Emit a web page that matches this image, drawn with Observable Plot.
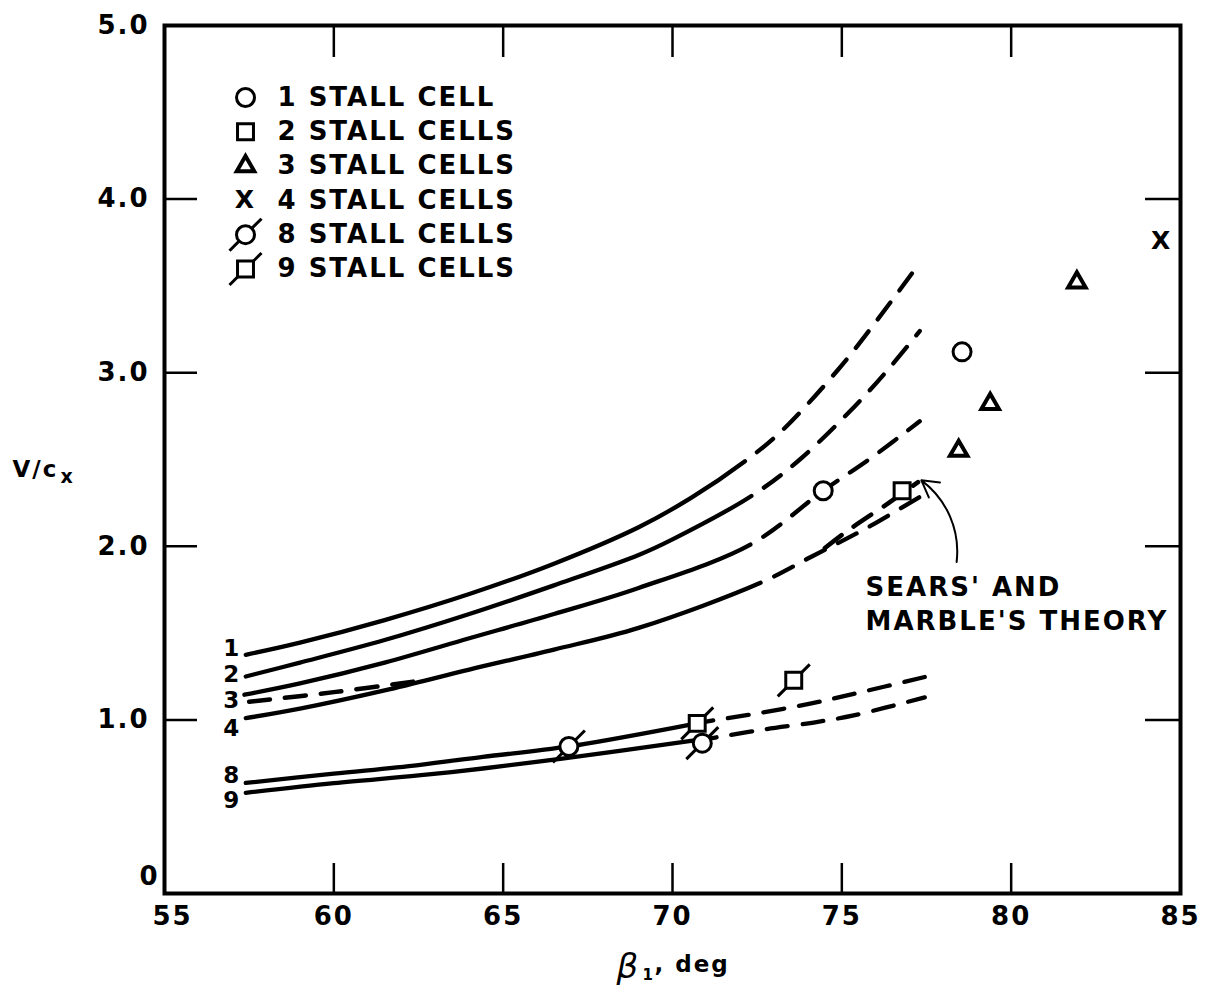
<!DOCTYPE html>
<html><head><meta charset="utf-8">
<script src="https://cdn.jsdelivr.net/npm/d3@7"></script>
<script src="https://cdn.jsdelivr.net/npm/@observablehq/plot@0.6"></script>
<style>
body{margin:0;background:#fff;}
#chart svg{display:block;}
</style></head><body><div id="chart"></div>
<script>
// ---------- axis ticks ----------
const xTicks = [55, 60, 65, 70, 75, 80, 85];
const xTickLabels = ["55", "60", "65", "70", "75", "80", "85"];
const yTicks = [1, 2, 3, 4, 5];
const yTickLabels = ["1.0", "2.0", "3.0", "4.0", "5.0"];
const innerXTicks = [60, 65, 70, 75, 80];
const innerYTicks = [1, 2, 3, 4];

// ---------- theory curves (beta1 deg, V/cx) ----------
const curve1Beta = [57.4, 59, 61.5, 64, 66.5, 69, 70.56, 72.14, 73.2, 74.9, 76.07, 77.25];
const curve1V    = [1.375, 1.445, 1.575, 1.725, 1.9, 2.11, 2.28, 2.49, 2.66, 3.02, 3.31, 3.62];
const curve1SolidEnd = 72.14;

const curve2Beta = [57.4, 59, 61.5, 64, 66.5, 69, 70, 72.33, 73.7, 75.4, 76.46, 77.3];
const curve2V    = [1.25, 1.33, 1.46, 1.61, 1.775, 1.95, 2.04, 2.29, 2.49, 2.81, 3.04, 3.24];
const curve2SolidEnd = 72.33;

const curve3Beta = [57.36, 59, 61.5, 64, 66.5, 69, 72.3, 74.45, 75.87, 77.3];
const curve3V    = [1.145, 1.21, 1.33, 1.47, 1.61, 1.76, 2.01, 2.32, 2.51, 2.72];
const curve3SolidEnd = 72.3;

const curve4Beta = [57.4, 59, 61.5, 64, 66.5, 69, 72.6, 74.1, 75, 75.87, 77.35];
const curve4V    = [1.01, 1.065, 1.17, 1.29, 1.405, 1.53, 1.79, 1.94, 2.03, 2.12, 2.29];
const curve4SolidEnd = 72.6;

const curve8Beta = [57.4, 60, 62.5, 64.4, 66.94, 70.73, 71.2, 72.4, 74.1, 75.35, 77.45];
const curve8V    = [0.637, 0.69, 0.74, 0.787, 0.847, 0.98, 0.997, 1.034, 1.095, 1.15, 1.247];
const curve8SolidEnd = 71.2;

const curve9Beta = [57.4, 60, 62.5, 64.4, 66.8, 70.6, 71.3, 72.7, 74.17, 75.35, 77.45];
const curve9V    = [0.58, 0.636, 0.68, 0.72, 0.778, 0.88, 0.90, 0.945, 0.985, 1.026, 1.13];
const curve9SolidEnd = 71.3;

// dashed branch near curves 3/4 at low beta
const branchBeta = [57.5, 60, 62.5];
const branchV    = [1.105, 1.16, 1.225];

// Sears' and Marble's theory (dashed)
const theoryBeta = [74.5, 75.1, 76.46, 77.25];
const theoryV    = [1.99, 2.08, 2.26, 2.37];

// curve labels
const curveLabelText = ["1", "2", "3", "4", "8", "9"];
const curveLabelBeta = [57.0, 57.0, 57.0, 57.0, 57.0, 57.0];
const curveLabelV    = [1.41, 1.26, 1.11, 0.95, 0.68, 0.535];

// ---------- experimental points ----------
const oneCellBeta = [74.45, 78.55];   const oneCellV = [2.32, 3.12];
const twoCellBeta = [76.78];          const twoCellV = [2.32];
const threeCellBeta = [78.45, 79.38, 81.94]; const threeCellV = [2.55, 2.82, 3.52];
const fourCellBeta = [84.44];         const fourCellV = [3.76];
const eightCellBeta = [66.94, 70.88]; const eightCellV = [0.847, 0.866];
const nineCellBeta = [70.73, 73.58];  const nineCellV = [0.98, 1.228];

// legend
const legendLabels = ["1 STALL CELL", "2 STALL CELLS", "3 STALL CELLS", "4 STALL CELLS", "8 STALL CELLS", "9 STALL CELLS"];

// annotation
const noteText = ["SEARS' AND\nMARBLE'S THEORY"];
const noteBeta = [75.7];
const noteV = [1.68];
const arrowFromBeta = [78.39], arrowFromV = [1.91];
const arrowToBeta = [77.35], arrowToV = [2.38];

// ---------- build ----------
const W = 1208, H = 994;
const M = {top: 25, right: 28, bottom: 101, left: 164};
const FW = W - M.left - M.right, FH = H - M.top - M.bottom;
const DASH = 21, GAP = 15;
const CURVE = "catmull-rom";

const rows = (name, b, v) => b.map((x, i) => ({curve: name, beta: x, v: v[i]}));
const curves = [
  ["1", curve1Beta, curve1V, curve1SolidEnd],
  ["2", curve2Beta, curve2V, curve2SolidEnd],
  ["3", curve3Beta, curve3V, curve3SolidEnd],
  ["4", curve4Beta, curve4V, curve4SolidEnd],
  ["8", curve8Beta, curve8V, curve8SolidEnd],
  ["9", curve9Beta, curve9V, curve9SolidEnd]
];

const pts = (b, v) => b.map((x, i) => ({beta: x, v: v[i]}));
const slash = {draw(ctx) { ctx.moveTo(-16, 16); ctx.lineTo(16, -16); }};

const F = "DejaVu Sans";
const txt = {fontFamily: F, fontWeight: "bold", fill: "black"};

const marks = [
  Plot.frame({stroke: "black", strokeWidth: 4}),
  Plot.ruleX(innerXTicks, {x: d => d, insetTop: FH - 30, strokeWidth: 2.5}),
  Plot.ruleX(innerXTicks, {x: d => d, insetBottom: FH - 32, strokeWidth: 2.5}),
  Plot.ruleY(innerYTicks, {y: d => d, insetRight: FW - 33, strokeWidth: 2.5}),
  Plot.ruleY(innerYTicks, {y: d => d, insetLeft: FW - 35, strokeWidth: 2.5}),
  // tick labels
  Plot.text(xTicks.slice(1), {x: d => d, y: 0, text: (d, i) => xTickLabels[i + 1], dy: 23, lineAnchor: "middle", fontSize: 26, ...txt}),
  Plot.text(xTicks.slice(0, 1), {x: d => d, y: 0, text: () => xTickLabels[0], dx: 8, dy: 23, lineAnchor: "middle", fontSize: 26, ...txt}),
  Plot.text(yTicks, {x: 55, y: d => d, text: (d, i) => yTickLabels[i], textAnchor: "end", dx: -15, lineAnchor: "middle", fontSize: 26, ...txt}),
  Plot.text([0], {x: 55, y: d => d, text: () => "0", textAnchor: "end", dx: -5, dy: -17, lineAnchor: "middle", fontSize: 26, ...txt}),
  // axis titles
  Plot.text(["V/c"], {frameAnchor: "left", dx: -152, dy: 10, textAnchor: "start", lineAnchor: "middle", fontSize: 23, ...txt}),
  Plot.text(["x"], {frameAnchor: "left", dx: -104, dy: 17, textAnchor: "start", lineAnchor: "middle", fontSize: 19, ...txt}),
  Plot.text(["β"], {frameAnchor: "bottom", dx: -56, dy: 74, textAnchor: "start", lineAnchor: "middle", fontSize: 34, fontStyle: "italic", fontFamily: F, fill: "black"}),
  Plot.text(["1"], {frameAnchor: "bottom", dx: -30, dy: 82, textAnchor: "start", lineAnchor: "middle", fontSize: 15, ...txt}),
  Plot.text([", deg"], {frameAnchor: "bottom", dx: -18, dy: 71, textAnchor: "start", lineAnchor: "middle", fontSize: 23, ...txt})
];

// theory curves: each drawn as one smooth path, solid then dashed (split applied after render)
for (const [n, b, v] of curves) {
  marks.push(Plot.line(rows(n, b, v), {x: "beta", y: "v", curve: CURVE, stroke: "black", strokeWidth: 4.3, strokeLinecap: "round"}));
}
marks.push(
  Plot.line(rows("branch", branchBeta, branchV), {x: "beta", y: "v", curve: CURVE, stroke: "black", strokeWidth: 4.5, strokeDasharray: `${DASH},${GAP}`, strokeLinecap: "round"}),
  Plot.line(rows("theory", theoryBeta, theoryV), {x: "beta", y: "v", curve: CURVE, stroke: "black", strokeWidth: 4.5, strokeDasharray: `${DASH},${GAP}`, strokeLinecap: "round"}),
  Plot.text(curveLabelText, {x: (d, i) => curveLabelBeta[i], y: (d, i) => curveLabelV[i], text: d => d, lineAnchor: "middle", fontSize: 23, ...txt}),
  // points
  Plot.dot(pts(eightCellBeta, eightCellV), {x: "beta", y: "v", symbol: slash, stroke: "black", strokeWidth: 3}),
  Plot.dot(pts(nineCellBeta, nineCellV), {x: "beta", y: "v", symbol: slash, stroke: "black", strokeWidth: 3}),
  Plot.dot(pts(oneCellBeta, oneCellV), {x: "beta", y: "v", r: 9, symbol: "circle", stroke: "black", fill: "white", strokeWidth: 3}),
  Plot.dot(pts(eightCellBeta, eightCellV), {x: "beta", y: "v", r: 9, symbol: "circle", stroke: "black", fill: "white", strokeWidth: 3}),
  Plot.dot(pts(twoCellBeta, twoCellV), {x: "beta", y: "v", r: 9, symbol: "square", stroke: "black", fill: "white", strokeWidth: 3}),
  Plot.dot(pts(nineCellBeta, nineCellV), {x: "beta", y: "v", r: 9, symbol: "square", stroke: "black", fill: "white", strokeWidth: 3}),
  Plot.dot(pts(threeCellBeta, threeCellV), {x: "beta", y: "v", r: 6.5, symbol: "triangle", stroke: "black", fill: "white", strokeWidth: 4}),
  Plot.text(pts(fourCellBeta, fourCellV), {x: "beta", y: "v", text: () => "X", lineAnchor: "middle", fontSize: 25, ...txt}),
  // annotation
  Plot.arrow([0], {x1: () => arrowFromBeta[0], y1: () => arrowFromV[0], x2: () => arrowToBeta[0], y2: () => arrowToV[0], bend: -30, headLength: 14, stroke: "black", strokeWidth: 2}),
  Plot.text(noteText, {x: () => noteBeta[0], y: () => noteV[0], text: d => d, textAnchor: "start", lineAnchor: "middle", lineHeight: 1.3, fontSize: 26, ...txt})
);

// legend
const rowY = i => 72 + 34.3 * i;
const legendSymbols = ["circle", "square", "triangle", "X", "circle", "square"];
legendLabels.forEach((lab, i) => {
  const base = {frameAnchor: "top-left", dx: 81, dy: rowY(i)};
  if (i >= 4) marks.push(Plot.dot([0], {...base, symbol: slash, stroke: "black", strokeWidth: 3}));
  if (legendSymbols[i] === "X") {
    marks.push(Plot.text(["X"], {...base, textAnchor: "middle", lineAnchor: "middle", fontSize: 25, ...txt}));
  } else if (legendSymbols[i] === "triangle") {
    marks.push(Plot.dot([0], {...base, r: 6.5, symbol: "triangle", stroke: "black", fill: "white", strokeWidth: 4}));
  } else {
    marks.push(Plot.dot([0], {...base, r: 9, symbol: legendSymbols[i], stroke: "black", fill: "white", strokeWidth: 3}));
  }
  marks.push(Plot.text([lab], {frameAnchor: "top-left", dx: 113, dy: rowY(i), textAnchor: "start", lineAnchor: "middle", fontSize: 26, ...txt}));
});

const chart = Plot.plot({
  width: W, height: H,
  marginTop: M.top, marginRight: M.right, marginBottom: M.bottom, marginLeft: M.left,
  x: {domain: [55, 85], axis: null},
  y: {domain: [0, 5], axis: null},
  style: {fontFamily: F, background: "white", letterSpacing: "2px", overflow: "visible"},
  marks
});
document.getElementById("chart").appendChild(chart);

// split each theory curve into a solid run followed by dashes
const xScale = chart.scale("x");
const lineGroups = chart.querySelectorAll('g[aria-label="line"]');
curves.forEach(([n, b, v, solidEnd], i) => {
  const g = lineGroups[i];
  if (!g) return;
  const path = g.querySelector("path");
  const total = path.getTotalLength();
  const target = xScale.apply(solidEnd);
  let lo = 0, hi = total;
  for (let k = 0; k < 40; k++) {
    const mid = (lo + hi) / 2;
    if (path.getPointAtLength(mid).x < target) lo = mid; else hi = mid;
  }
  const pattern = [lo.toFixed(1)];
  let acc = lo;
  while (acc < total + 50) { pattern.push(GAP, DASH); acc += GAP + DASH; }
  path.setAttribute("stroke-dasharray", pattern.join(","));
});
</script></body></html>
